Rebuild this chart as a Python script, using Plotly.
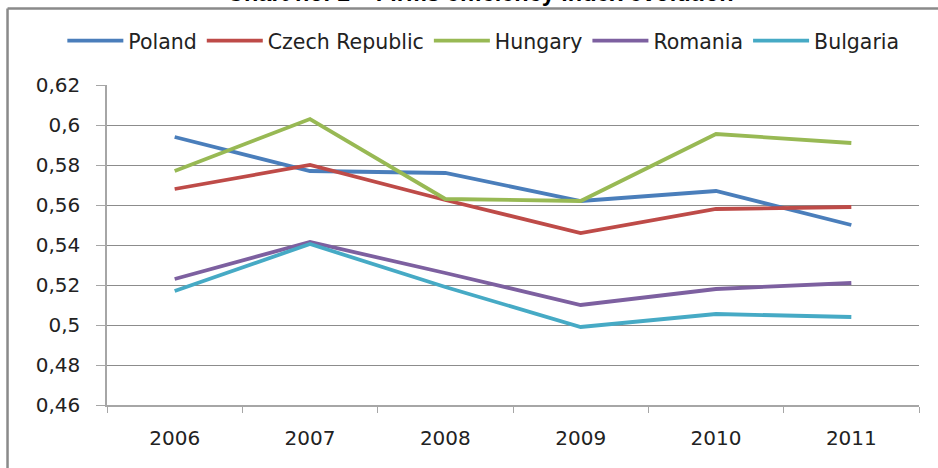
import plotly.graph_objects as go

years = ["2006", "2007", "2008", "2009", "2010", "2011"]
poland = [0.594, 0.577, 0.576, 0.562, 0.567, 0.550]
czech = [0.568, 0.580, 0.5625, 0.546, 0.558, 0.559]
hungary = [0.577, 0.603, 0.563, 0.562, 0.5955, 0.591]
romania = [0.523, 0.5415, 0.526, 0.510, 0.518, 0.521]
bulgaria = [0.517, 0.5405, 0.519, 0.499, 0.5055, 0.504]

series = [
    ("Poland", poland, "#4A7EBB"),
    ("Czech Republic", czech, "#BE4B48"),
    ("Hungary", hungary, "#98B954"),
    ("Romania", romania, "#7D60A0"),
    ("Bulgaria", bulgaria, "#46AAC5"),
]

fig = go.Figure()
for name, vals, col in series:
    fig.add_trace(go.Scatter(x=years, y=vals, name=name, mode="lines",
                             line=dict(color=col, width=3.8)))

tick_font = dict(family="DejaVu Sans, Verdana, sans-serif", size=20, color="#222222")

fig.update_layout(
    width=938, height=468,
    margin=dict(l=107, r=19, t=85, b=63),
    paper_bgcolor="white", plot_bgcolor="white",
    separators=", ",
    showlegend=True,
    legend=dict(orientation="h", x=-0.055, xanchor="left", y=1.138, yanchor="middle",
                font=dict(family="DejaVu Sans, Verdana, sans-serif", size=20.5, color="#222222"),
                itemwidth=56, tracegroupgap=0, bgcolor="rgba(0,0,0,0)"),
    xaxis=dict(type="category", showgrid=False, showline=True, linecolor="#A6A6A6", linewidth=1.5,
               ticks="outside", tickson="boundaries", ticklen=6, tickcolor="#A6A6A6",
               tickfont=tick_font, ticklabelstandoff=14, range=[-0.5, 5.5], fixedrange=True),
    yaxis=dict(range=[0.46, 0.62], dtick=0.02, tick0=0.46, showgrid=True, gridcolor="#8C8C8C",
               gridwidth=1, showline=True, linecolor="#A6A6A6", linewidth=1.5,
               ticks="outside", ticklen=9, tickcolor="#A6A6A6", tickfont=tick_font,
               ticklabelstandoff=12, zeroline=False, fixedrange=True),
    shapes=[
        dict(type="line", xref="paper", yref="paper", x0=-0.1225, x1=1.03, y0=1.239, y1=1.239,
             line=dict(color="#8A8A8A", width=2.5)),
        dict(type="line", xref="paper", yref="paper", x0=-0.1225, x1=-0.1225, y0=1.239, y1=-0.2,
             line=dict(color="#8A8A8A", width=2.5)),
    ],
    annotations=[
        dict(text="<b>Chart no. 1 – Firms efficiency index evolution</b>", xref="paper", yref="paper",
             x=0.460, y=1.239, yanchor="bottom", xanchor="center", yshift=1, showarrow=False,
             font=dict(family="Liberation Sans, Arial, sans-serif", size=23.5, color="#000000")),
    ],
)

fig.write_html("out.html", config={"displayModeBar": False},
               post_script="document.body.style.margin='0';document.body.style.overflow='hidden';")
